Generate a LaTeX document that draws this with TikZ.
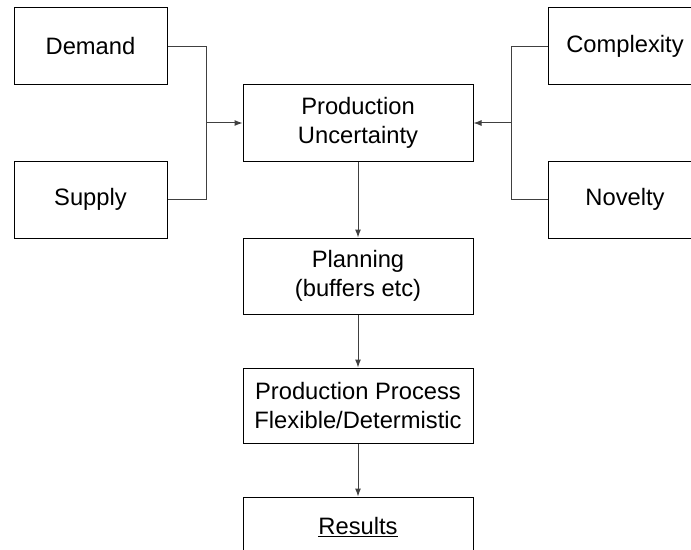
\documentclass[tikz,border=0pt]{standalone}
\usepackage{fontspec}
\setmainfont{Liberation Sans}
\usetikzlibrary{arrows.meta}
\begin{document}
\begin{tikzpicture}
      [x=0.75pt, y=-0.75pt,
      every node/.style={draw=black, line width=0.75pt, inner sep=0pt, align=center,
        font=\fontsize{17.8}{21.6}\selectfont},
      side/.style={minimum width=114.75pt, minimum height=57.75pt},
      mid/.style={minimum width=172.5pt, minimum height=57pt},
      link/.style={draw=black!75, line width=0.75pt},
      >={Latex[length=6pt,width=4.5pt]},
      ]
      \clip (0,0) rectangle (691,549);
      \node[side] (demand) at (90.5,46.5) {Demand};
      \node[side] (supply) at (90.5,199.5) {Supply};
      \node[side] (complexity) at (625,46.5) {Complexity};
      \node[side] (novelty) at (625,199.5) {Novelty};
      \node[mid] (unc) at (358,123) {Production\\Uncertainty};
      \node[mid] (planning) at (358,276) {Planning\\(buffers etc)};
      \node[mid, minimum height=56.25pt] (process) at (358,405.5) {Production Process\\Flexible/Determistic};
      \node[mid, minimum height=45pt] (results) at (358,527) {\underline{Results}};
      \coordinate (ljoin) at (206,123);
      \coordinate (rjoin) at (511,123);
      % inputs
      \draw[link] (demand) -| (ljoin);
      \draw[link] (supply) -| (ljoin);
      \draw[link,->] (ljoin) -- (unc);
      \draw[link] (complexity) -| (rjoin);
      \draw[link] (novelty) -| (rjoin);
      \draw[link,->] (rjoin) -- (unc);
      % chain
      \draw[link,->] (unc) -- (planning);
      \draw[link,->] (planning) -- (process);
      \draw[link,->] (process) -- (results);
\end{tikzpicture}
\end{document}
